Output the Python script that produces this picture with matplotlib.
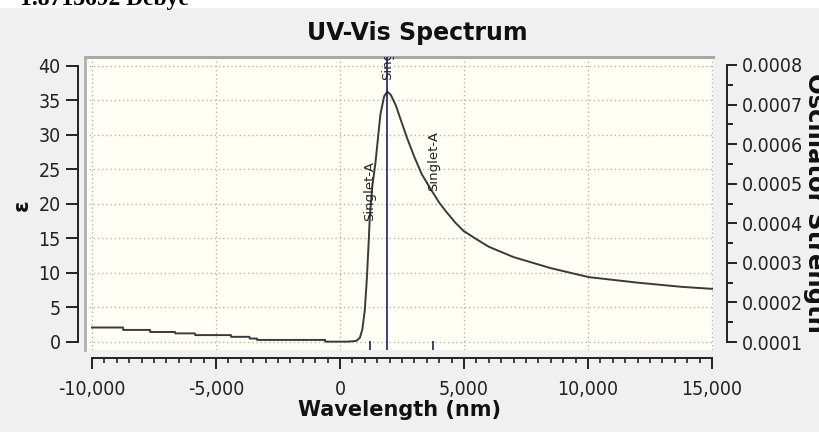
import numpy as np
import matplotlib.pyplot as plt
from matplotlib.patches import Rectangle
from matplotlib.ticker import FuncFormatter, MultipleLocator
from matplotlib import font_manager

# spectrum (wavelength nm, epsilon)
wavelength = [-10000, -8750, -8740, -7660, -7650, -6650, -6640, -5850, -5840, -5000,
              -4400, -4390, -3650, -3640, -3350, -3340, -600, -590, 320, 650,
              800, 900, 1000, 1080, 1150, 1200, 1300, 1430, 1630, 1780,
              1910, 2050, 2250, 2440, 2700, 3000, 3300, 3650, 4000, 4300,
              4650, 4980, 5500, 6000, 7000, 8500, 10030, 12000, 13750, 15000]
epsilon = [2.1, 2.1, 1.75, 1.75, 1.45, 1.45, 1.25, 1.25, 1.0, 1.0,
           1.0, 0.75, 0.75, 0.5, 0.5, 0.3, 0.3, 0.05, 0.05, 0.15,
           0.6, 1.8, 4.6, 9.0, 14.0, 18.0, 22.5, 26.0, 33.0, 35.6,
           36.3, 35.8, 34.3, 32.3, 29.6, 26.8, 24.3, 22.2, 20.2, 18.8,
           17.3, 16.1, 14.9, 13.8, 12.3, 10.7, 9.4, 8.6, 8.0, 7.7]

# excited states
state_wl = [1190, 1910, 3770]
state_f = [0.000102, 0.00082, 0.000102]
state_label = ["Singlet-A", "Singlet-A", "Singlet-A"]
selected = 1

# narrow face for tick labels if one is installed
condensed = [f for f in font_manager.fontManager.ttflist
             if f.name == "DejaVu Sans" and f.stretch == "condensed" and f.weight in (400, "normal")]
if condensed:
    tick_font = {"family": "DejaVu Sans", "stretch": "condensed", "size": 14}
else:
    tick_font = {"family": "DejaVu Sans", "stretch": "normal", "size": 12}

fig = plt.figure(figsize=(8.2, 4.32), dpi=100, facecolor="#f0f0f0")
W, H = 820, 432

# white strip and cut-off text at the top
fig.patches.append(Rectangle((0, 1 - 8 / H), 1, 8 / H, transform=fig.transFigure,
                             facecolor="white", edgecolor="none", zorder=0))
fig.text(20 / W, 1 - 5 / H, "1.8713692 Debye", family="Liberation Serif",
         weight="bold", fontsize=17, va="baseline", ha="left")

ax = fig.add_axes([85 / W, 82 / H, 628 / W, 293 / H])
ax.set_facecolor("#fffff5")
ax.set_xlim(-10282, 15040)
ax.set_ylim(-1.16, 41.30)

ax.plot(wavelength, epsilon, color="#3a3a3a", lw=1.4, zorder=3)

ax.set_xticks(np.arange(-10000, 15001, 5000))
ax.xaxis.set_minor_locator(MultipleLocator(500))
ax.set_yticks(np.arange(0, 41, 5))
ax.grid(which="major", color="#b4b4b4", linestyle=(0, (1, 2)), lw=1)
ax.xaxis.set_major_formatter(FuncFormatter(lambda v, p: f"{v:,.0f}"))

for s in ["top", "right"]:
    ax.spines[s].set_visible(False)
ax.spines["left"].set_position(("outward", 5))
ax.spines["left"].set_bounds(0, 40)
ax.spines["bottom"].set_position(("outward", 5.8))
ax.spines["bottom"].set_bounds(-10000, 15000)
for s in ["left", "bottom"]:
    ax.spines[s].set_color("#222222")
    ax.spines[s].set_linewidth(1.4)
ax.tick_params(axis="y", which="major", length=8.5, width=1.4, pad=4, color="#222222")
ax.tick_params(axis="x", which="major", length=8, width=1.4, pad=8, color="#222222")
ax.tick_params(axis="x", which="minor", length=3.6, width=1.2, color="#222222")
for lab in ax.get_xticklabels() + ax.get_yticklabels():
    lab.set_fontfamily(tick_font["family"])
    lab.set_fontstretch(tick_font["stretch"])
    lab.set_fontsize(tick_font["size"])
    lab.set_color("#222222")

# frame of the plot box (top and left edges)
ax.plot([0, 1], [1, 1], transform=ax.transAxes, color="#a8a8a8", lw=2.2, clip_on=False)
ax.plot([0, 0], [0, 1], transform=ax.transAxes, color="#b0b0b0", lw=2, clip_on=False)

# oscillator strength axis
ax2 = ax.twinx()
ax2.set_ylim(0.0000798, 0.0008202)
ax2.set_yticks(np.arange(0.0001, 0.00081, 0.0001))
ax2.yaxis.set_minor_locator(MultipleLocator(0.00005))
ax2.yaxis.set_major_formatter(FuncFormatter(lambda v, p: f"{v:.4f}"))
for s in ["top", "left", "bottom"]:
    ax2.spines[s].set_visible(False)
ax2.spines["right"].set_position(("outward", 10))
ax2.spines["right"].set_bounds(0.0001, 0.0008)
ax2.spines["right"].set_color("#222222")
ax2.spines["right"].set_linewidth(1.4)
ax2.tick_params(axis="y", which="major", length=7, width=1.4, pad=4, color="#222222")
ax2.tick_params(axis="y", which="minor", length=4, width=1.4, color="#222222")
for lab in ax2.get_yticklabels():
    lab.set_fontfamily(tick_font["family"])
    lab.set_fontstretch(tick_font["stretch"])
    lab.set_fontsize(tick_font["size"])
    lab.set_color("#222222")

for i, (x, f, name) in enumerate(zip(state_wl, state_f, state_label)):
    y_lab = np.interp(x, wavelength, epsilon) + 0.4
    if i == selected:
        ax2.axvline(x, color="#1c1c80", lw=1.2, zorder=4)
        y_lab += 1.2
    else:
        ax2.vlines(x, ax2.get_ylim()[0], f, color="#222244", lw=1.2)
    ax.text(x, y_lab, name, rotation=90, ha="center", va="bottom", fontsize=9.5,
            color="#222222", clip_on=True, zorder=5)

fig.text(417 / W, 1 - 33 / H, "UV-Vis Spectrum", ha="center", va="center",
         fontsize=17, weight="bold", color="#111111")
fig.text(400 / W, 22 / H, "Wavelength (nm)", ha="center", va="center",
         fontsize=15, weight="bold", color="#111111")
fig.text(22 / W, 1 - 205 / H, "ε", ha="center", va="center", rotation=90,
         fontsize=15, weight="bold", color="#111111")
fig.text(815 / W, 1 - 203 / H, "Oscillator Strength", ha="center", va="center",
         rotation=270, fontsize=17.5, weight="bold", color="#111111")

fig.savefig("out.png", dpi=100, facecolor=fig.get_facecolor())
